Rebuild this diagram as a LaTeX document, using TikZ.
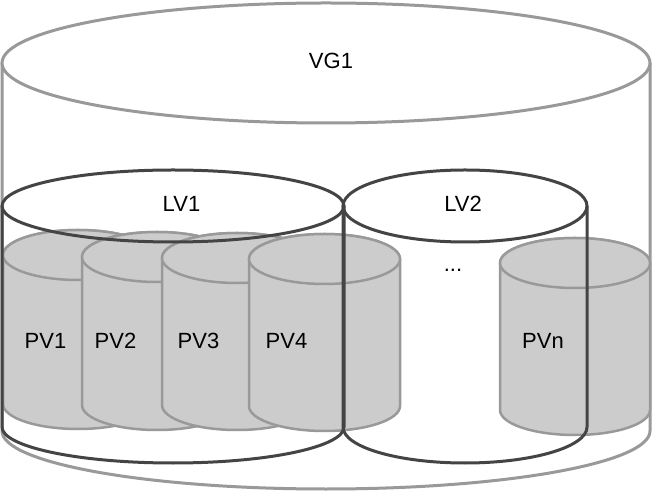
\documentclass[tikz,border=0pt]{standalone}
\usepackage{fontspec}
\setmainfont{Liberation Sans}
\definecolor{vgline}{HTML}{999999}
\definecolor{lvline}{HTML}{444444}
\definecolor{pvline}{HTML}{999999}
\definecolor{pvfill}{HTML}{CCCCCC}
\newcommand{\pvcyl}[5]{%
  \filldraw[pv] ({#1-#2},#3) -- ({#1-#2},#4)
    arc[start angle=180,end angle=360,x radius=#2,y radius=#5]
    -- ({#1+#2},#3)
    arc[start angle=0,end angle=180,x radius=#2,y radius=#5] -- cycle;
  \draw[pv] (#1,#3) ellipse[x radius=#2,y radius=#5];}
\newcommand{\lvcyl}[5]{%
  \draw[lv] ({#1-#2},#3) -- ({#1-#2},#4)
    arc[start angle=180,end angle=360,x radius=#2,y radius=#5]
    -- ({#1+#2},#3);
  \draw[lv] (#1,#3) ellipse[x radius=#2,y radius=#5];}
\begin{document}
\begin{tikzpicture}[x=1pt,y=1pt,
  vg/.style={draw=vgline,line width=3pt},
  lv/.style={draw=lvline,line width=3pt},
  pv/.style={draw=pvline,fill=pvfill,line width=2.5pt},
  lbl/.style={inner sep=0pt,anchor=base,font=\fontsize{22}{26}\selectfont}]
\useasboundingbox (0,0) rectangle (652,492);
% VG1
\fill[white] (2,429) -- (2,61)
  arc[start angle=180,end angle=360,x radius=324,y radius=58] -- (650,429) -- cycle;
\draw[vg] (2,429) -- (2,61)
  arc[start angle=180,end angle=360,x radius=324,y radius=58] -- (650,429);
\draw[vg,fill=white] (326,429) ellipse[x radius=324,y radius=60];
% PVs
\pvcyl{78}{75}{237}{88}{25}
\pvcyl{157}{75}{235}{87}{25}
\pvcyl{237}{75}{234}{87}{25}
\pvcyl{324.5}{75.5}{233}{86}{25}
\pvcyl{575}{75}{229}{82}{25}
% LVs
\lvcyl{173}{171}{286}{65}{36}
\lvcyl{465}{122}{286}{65}{36}
% labels
\node[lbl] (vg1) at (331,423.7) {VG1};
\node[lbl] (lv1) at (181.5,280) {LV1};
\node[lbl] (lv2) at (463,280) {LV2};
\node[lbl] (dots) at (453,220) {...};
\node[lbl] (pv1) at (45.5,143.7) {PV1};
\node[lbl] (pv2) at (115.5,143.7) {PV2};
\node[lbl] (pv3) at (198.5,143.7) {PV3};
\node[lbl] (pv4) at (286.5,143.7) {PV4};
\node[lbl] (pvn) at (543,143.7) {PVn};
\end{tikzpicture}
\end{document}
